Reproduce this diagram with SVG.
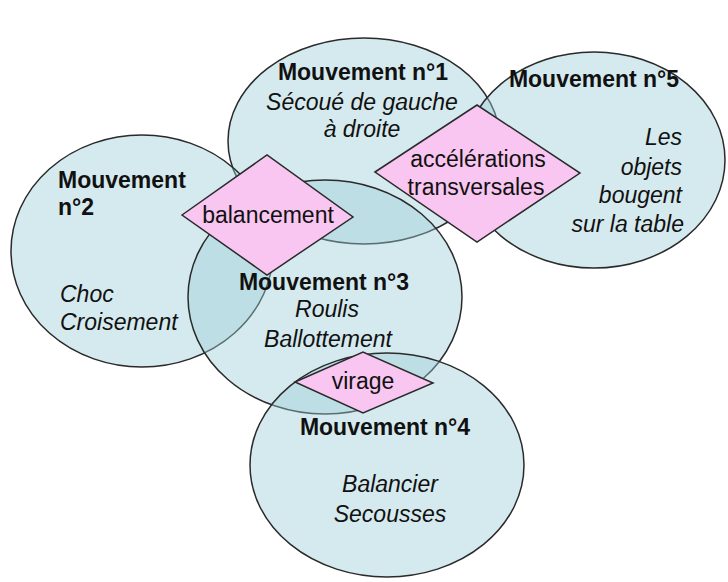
<svg xmlns="http://www.w3.org/2000/svg" width="728" height="582" viewBox="0 0 728 582">
<style>
.c{fill:#9ccdd6;fill-opacity:0.42;stroke:#2a2a2a;stroke-width:1.5}
.d{fill:#f8c6f0;stroke:#2a2a2a;stroke-width:1.5}
text{font-family:"Liberation Sans",Arial,sans-serif;font-size:23px;fill:#111}
.b{font-weight:bold}
.i{font-style:italic}
.m{text-anchor:middle}
.e{text-anchor:end}
</style>
<rect width="728" height="582" fill="#ffffff"/>
<g id="m1"><ellipse class="c" cx="364" cy="141" rx="136" ry="103"/></g>
<g id="m2"><ellipse class="c" cx="142" cy="251" rx="131" ry="116"/></g>
<g id="m5"><ellipse class="c" cx="594" cy="160" rx="131" ry="108"/></g>
<g id="m3"><ellipse class="c" cx="325" cy="297" rx="137" ry="117"/></g>
<g id="m4"><ellipse class="c" cx="387" cy="465" rx="137" ry="112"/></g>
<g id="connectors">
<g id="balancement"><polygon class="d" points="182,215 267,155 353,217 267,275"/><text class="m" x="268" y="223">balancement</text></g>
<g id="acc"><polygon class="d" points="375,172 477,105 580,173 477,242"/><text class="m" x="478" y="167">accélérations</text><text class="m" x="476" y="195">transversales</text></g>
<g id="virage"><polygon class="d" points="295,382 363,352 433,383 363,413"/><text class="m" x="363" y="389">virage</text></g>
</g>
<g id="t1"><text class="b m" x="363" y="80">Mouvement n°1</text><text class="i m" x="362" y="110">Sécoué de gauche</text><text class="i m" x="362" y="137">à droite</text></g>
<g id="t5"><text class="b m" x="594" y="87">Mouvement n°5</text><text class="i e" x="682" y="145">Les</text><text class="i e" x="682" y="175">objets</text><text class="i e" x="682" y="203">bougent</text><text class="i e" x="684" y="232">sur la table</text></g>
<g id="t2"><text class="b" x="58" y="188">Mouvement</text><text class="b" x="58" y="215">n°2</text><text class="i" x="60" y="302">Choc</text><text class="i" x="60" y="330">Croisement</text></g>
<g id="t3"><text class="b m" x="324" y="290">Mouvement n°3</text><text class="i m" x="327" y="317">Roulis</text><text class="i m" x="328" y="347">Ballottement</text></g>
<g id="t4"><text class="b m" x="385" y="435">Mouvement n°4</text><text class="i m" x="390" y="492">Balancier</text><text class="i m" x="390" y="522">Secousses</text></g>
</svg>
